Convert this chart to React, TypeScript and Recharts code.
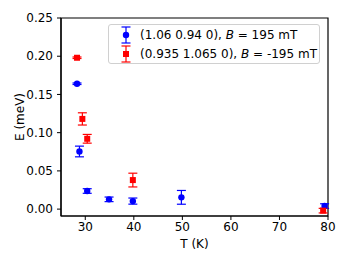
import React from 'react';
import {
  ErrorBar,
  ReferenceArea,
  Scatter,
  ScatterChart,
  XAxis,
  YAxis,
} from 'recharts';

// Values.
const blueT = [28.3, 28.8, 30.4, 34.9, 39.8, 49.8, 79.3];
const blueE = [0.164, 0.0754, 0.0237, 0.0128, 0.0105, 0.0154, 0.004];
const blueErr = [0.001, 0.007, 0.003, 0.003, 0.004, 0.009, 0.003];

const redT = [28.3, 29.4, 30.4, 39.8, 79.0];
const redE = [0.198, 0.118, 0.092, 0.038, -0.002];
const redErr = [0.001, 0.008, 0.0057, 0.009, 0.003];

const xTicks = [30, 40, 50, 60, 70, 80];
const yTicks = [0, 0.05, 0.1, 0.15, 0.2, 0.25];

const X_DOMAIN: [number, number] = [25, 80];
const Y_DOMAIN: [number, number] = [-0.009, 0.25];

const BLUE = '#0000ff';
const RED = '#ff0000';
const FONT = '"DejaVu Sans", sans-serif';

const blueData = blueT.map((t, i) => ({ t, e: blueE[i], err: blueErr[i] }));
const redData = redT.map((t, i) => ({ t, e: redE[i], err: redErr[i] }));

const tickStyle = { fontFamily: FONT, fontSize: 12, fill: '#000' };

function Dot(props: any) {
  return <circle cx={props.cx} cy={props.cy} r={3.2} fill={BLUE} />;
}

function Square(props: any) {
  return <rect x={props.cx - 3} y={props.cy - 3} width={6} height={6} fill={RED} />;
}

function LegendIcon({ color, square }: { color: string; square?: boolean }) {
  return (
    <svg width={18} height={18} style={{ display: 'block' }}>
      <line x1={9} y1={1} x2={9} y2={17} stroke={color} strokeWidth={1.2} />
      <line x1={4.5} y1={1} x2={13.5} y2={1} stroke={color} strokeWidth={1.2} />
      <line x1={4.5} y1={17} x2={13.5} y2={17} stroke={color} strokeWidth={1.2} />
      {square ? (
        <rect x={6} y={6} width={6} height={6} fill={color} />
      ) : (
        <circle cx={9} cy={9} r={3.2} fill={color} />
      )}
    </svg>
  );
}

// matplotlib-style legend box, laid over the plot
function LegendBox() {
  const row: React.CSSProperties = {
    display: 'flex',
    alignItems: 'center',
    height: 19,
  };
  return (
    <div
      style={{
        position: 'absolute',
        left: 108,
        top: 24,
        boxSizing: 'border-box',
        width: 212,
        height: 40,
        border: '1px solid #d0d0d0',
        borderRadius: 3,
        background: 'rgba(255,255,255,0.85)',
        padding: '0 0 0 8px',
        fontFamily: FONT,
        fontSize: 12,
        color: '#000',
        whiteSpace: 'nowrap',
      }}
    >
      <div style={row}>
        <LegendIcon color={BLUE} />
        <span style={{ marginLeft: 5 }}>
          (1.06 0.94 0), <i>B</i> = 195 mT
        </span>
      </div>
      <div style={row}>
        <LegendIcon color={RED} square />
        <span style={{ marginLeft: 5 }}>
          (0.935 1.065 0), <i>B</i> = -195 mT
        </span>
      </div>
    </div>
  );
}

export default function App() {
  return (
    <div style={{ position: 'fixed', left: 0, top: 0, width: 349, height: 262, background: '#fff' }}>
      <ScatterChart
        width={349}
        height={262}
        margin={{ top: 18, right: 21, bottom: 0, left: 0 }}
      >
        <XAxis
          type="number"
          dataKey="t"
          domain={X_DOMAIN}
          ticks={xTicks}
          allowDataOverflow
          height={46}
          tickSize={4}
          tickMargin={2}
          tick={tickStyle}
          tickLine={{ stroke: '#000' }}
          axisLine={{ stroke: '#000', strokeWidth: 1.2 }}
          label={{
            value: 'T (K)',
            position: 'insideBottom',
            offset: 14,
            style: { fontFamily: FONT, fontSize: 12, fill: '#000' },
          }}
        />
        <YAxis
          type="number"
          dataKey="e"
          domain={Y_DOMAIN}
          ticks={yTicks}
          allowDataOverflow
          width={61}
          tickSize={4}
          tickMargin={4}
          tick={tickStyle}
          tickFormatter={(v: number) => v.toFixed(2)}
          tickLine={{ stroke: '#000' }}
          axisLine={{ stroke: '#000', strokeWidth: 1.2 }}
          label={{
            value: 'E (meV)',
            angle: -90,
            position: 'insideLeft',
            offset: 20,
            style: { fontFamily: FONT, fontSize: 12, fill: '#000', textAnchor: 'middle' },
          }}
        />
        <Scatter data={blueData} shape={Dot} isAnimationActive={false}>
          <ErrorBar dataKey="err" direction="y" width={4.5} stroke={BLUE} strokeWidth={1.2} />
        </Scatter>
        <Scatter data={redData} shape={Square} isAnimationActive={false}>
          <ErrorBar dataKey="err" direction="y" width={4.5} stroke={RED} strokeWidth={1.2} />
        </Scatter>
        <ReferenceArea
          x1={X_DOMAIN[0]}
          x2={X_DOMAIN[1]}
          y1={Y_DOMAIN[0]}
          y2={Y_DOMAIN[1]}
          fill="none"
          stroke="#000"
          strokeWidth={1.2}
          ifOverflow="visible"
        />
      </ScatterChart>
      <LegendBox />
    </div>
  );
}
